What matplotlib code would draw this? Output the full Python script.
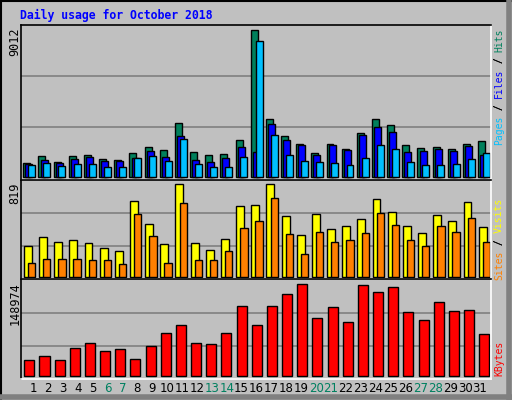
import matplotlib
matplotlib.use('Agg')
import matplotlib.pyplot as plt
from matplotlib.lines import Line2D
import numpy as np

days = list(range(1, 32))
weekends = [6, 7, 13, 14, 20, 21, 27, 28]

hits = [877, 1264, 938, 1264, 1366, 1121, 1060, 1488, 1815, 1672, 3324, 1550, 1325, 1427, 2284, 9012,
        3527, 2528, 2039, 1488, 2039, 1733, 2712, 3568, 3201, 1978, 1794, 1815, 1733, 2039, 2222]
files = [775, 1060, 856, 1121, 1223, 979, 979, 1183, 1611, 1244, 2528, 1060, 938, 1183, 1855, 1550,
         3262, 2284, 1978, 1366, 1978, 1672, 2590, 3079, 2773, 1550, 1611, 1733, 1611, 1917, 1366]
pages = [754, 877, 693, 816, 816, 632, 632, 1183, 1305, 999, 2345, 816, 632, 632, 1244, 8340,
         2590, 1366, 999, 938, 877, 754, 1183, 1978, 1733, 938, 754, 754, 816, 1121, 1488]
visits = [269, 349, 305, 322, 296, 251, 225, 668, 464, 287, 819, 296, 234, 331, 624, 633,
          819, 535, 367, 553, 420, 447, 509, 686, 571, 447, 384, 544, 491, 659, 438]
sites = [118, 154, 154, 154, 145, 145, 109, 553, 358, 118, 651, 145, 145, 225, 429, 491,
         695, 376, 198, 393, 305, 322, 384, 562, 455, 322, 269, 447, 393, 517, 305]
kbytes = [25010, 31535, 25010, 44583, 52739, 39690, 42952, 26641, 47846, 69050, 82098, 52739, 51108,
          69050, 113091, 82098, 113091, 132663, 148974, 93516, 111460, 86992, 147343, 135925, 144081,
          103305, 90253, 119614, 104934, 106565, 67419]

W, H = 512, 400
BG = '#c0c0c0'
fig = plt.figure(figsize=(W / 100, H / 100), dpi=100, facecolor=BG)
mono = 'DejaVu Sans Mono'


def rect(x0, y0, x1, y1):
    return [x0 / W, 1 - y1 / H, (x1 - x0) / W, (y1 - y0) / H]


def panel(y0, y1, base_off, unit, grid_px):
    ax = fig.add_axes(rect(21, y0, 491, y1))
    ax.set_facecolor(BG)
    hpx = y1 - y0
    ax.set_ylim(-base_off * unit, (hpx - base_off) * unit)
    ax.set_xlim(0.5, 31.5)
    for g in grid_px:
        ax.axhline(g * unit, color='#808080', lw=1.2, zorder=0)
    for s in ax.spines.values():
        s.set_linewidth(1.2)
    ax.spines['bottom'].set_color('white')
    ax.spines['right'].set_color('white')
    ax.set_xticks([])
    ax.set_yticks([])
    return ax


x = np.array(days)
kw = dict(edgecolor='black', linewidth=1.0)

# top: hits / files / pages
ax1 = panel(25, 180, 3, 9012 / 147.4, [50, 101])
ax1.bar(x - 0.12, hits, 0.46, color='#00805c', **kw)
ax1.bar(x + 0.02, files, 0.46, color='#0000ff', **kw)
ax1.bar(x + 0.2, pages, 0.46, color='#00c0ff', **kw)

# middle: visits / sites
ax2 = panel(180, 279, 2.3, 819 / 92.3, [30.3, 63.3])
ax2.bar(x - 0.05, visits, 0.52, color='#ffff00', **kw)
ax2.bar(x + 0.2, sites, 0.48, color='#ff8000', **kw)

# bottom: kbytes
ax3 = panel(279, 379, 3.3, 148974 / 91.3, [29.7, 62.3])
ax3.bar(x + 0.05, kbytes, 0.66, color='#ff0000', **kw)

fig.text(20 / W, 1 - 15 / H, 'Daily usage for October 2018', color='#0000ff', family=mono,
         fontweight='bold', fontsize=8.3, va='center')

for ylab, val in [(27, '9012'), (183, '819'), (282, '148974')]:
    fig.text(15 / W, 1 - ylab / H, val, rotation=90, ha='center', va='top', family=mono, fontsize=8.5)

RFS = 7
pitch = 0.602 * RFS * 100 / 72


def right_label(ytop, parts):
    # parts listed top to bottom, each drawn rotated reading upward
    y = ytop
    for txt, col in parts:
        if txt.strip():
            fig.text(499 / W, 1 - y / H, txt, rotation=90, ha='center', va='top', color=col,
                     family=mono, fontsize=RFS)
        y += len(txt) * pitch


right_label(28, [('Hits', '#00805c'), (' / ', '#000000'), ('Files', '#0000ff'),
                 (' / ', '#000000'), ('Pages', '#00c0ff')])
right_label(198, [('Visits', '#ffff00'), (' / ', '#000000'), ('Sites', '#ff8000')])
right_label(341, [('KBytes', '#ff0000')])
# slashes
for ys in [28 + 4 * pitch, 28 + 12 * pitch, 198 + 6 * pitch]:
    fig.text(499 / W, 1 - (ys + 1.5 * pitch) / H, '/', rotation=90, ha='center', va='center',
             family=mono, fontsize=RFS)

for d in days:
    xp = 33 + (d - 1) * 14.9
    fig.text(xp / W, 1 - 389 / H, str(d), ha='center', va='center', fontsize=8.5, family='DejaVu Sans',
             color='#008060' if d in weekends else 'black')

# outer 3D border
fig.add_artist(Line2D([0.5 / W, 0.5 / W], [0, 1], color='black', lw=1.5))
fig.add_artist(Line2D([0, 1], [1 - 0.5 / H, 1 - 0.5 / H], color='black', lw=1.5))
fig.add_artist(Line2D([1 - 3 / W, 1 - 3 / W], [0, 1], color='#808080', lw=4))
fig.add_artist(Line2D([0, 1], [3 / H, 3 / H], color='#808080', lw=4))

fig.savefig('out.png', dpi=100, facecolor=BG)
